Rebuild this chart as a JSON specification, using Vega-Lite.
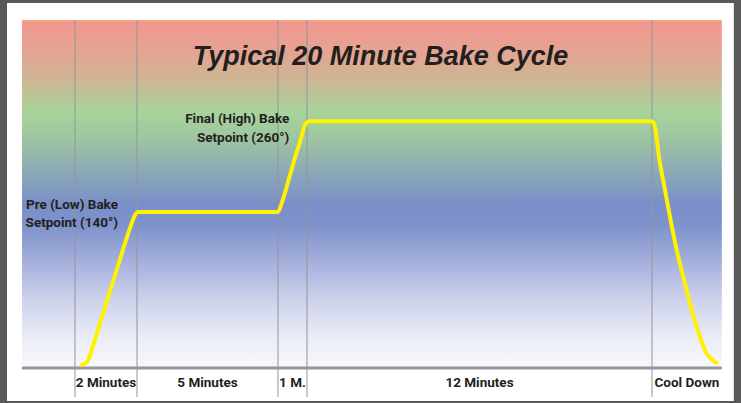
{
  "$schema": "https://vega.github.io/schema/vega-lite/v6.json",
  "width": 741,
  "height": 403,
  "padding": 0,
  "autosize": {"type": "none"},
  "background": "#58595b",
  "config": {"view": {"stroke": null}},
  "datasets": {
    "page": [{"t0": -2.357, "t1": 22.85, "d0": -109.4, "d1": 416}],
    "zone": [{"t0": -1.837, "t1": 22.433, "d0": -65.8, "d1": 393.6}],
    "dividers": [
      {"t": 0, "d0": -104, "d1": 393.6},
      {"t": 2, "d0": -104, "d1": 393.6},
      {"t": 7, "d0": -104, "d1": 393.6},
      {"t": 8, "d0": -104, "d1": 393.6},
      {"t": 20, "d0": -104, "d1": 393.6}
    ],
    "baseline": [{"t0": -1.837, "t1": 22.433, "d": -65.8}],
    "curve": [
      {"t": 0.216, "temp": -61.8},
      {"t": 0.397, "temp": -57.5},
      {"t": 0.539, "temp": -42.0},
      {"t": 0.806, "temp": -6.8},
      {"t": 1.074, "temp": 28.3},
      {"t": 1.345, "temp": 63.6},
      {"t": 1.613, "temp": 98.8},
      {"t": 1.829, "temp": 125.2},
      {"t": 1.935, "temp": 136.2},
      {"t": 2.046, "temp": 140},
      {"t": 4.5, "temp": 140},
      {"t": 6.99, "temp": 140},
      {"t": 7.128, "temp": 151.6},
      {"t": 7.3, "temp": 173.5},
      {"t": 7.528, "temp": 204.4},
      {"t": 7.759, "temp": 232.9},
      {"t": 7.931, "temp": 255.0},
      {"t": 8.08, "temp": 260},
      {"t": 14, "temp": 260},
      {"t": 20.0, "temp": 260},
      {"t": 20.104, "temp": 252.7},
      {"t": 20.243, "temp": 213.1},
      {"t": 20.452, "temp": 169.2},
      {"t": 20.626, "temp": 133.9},
      {"t": 20.859, "temp": 90.0},
      {"t": 21.088, "temp": 54.7},
      {"t": 21.321, "temp": 19.6},
      {"t": 21.554, "temp": -11.3},
      {"t": 21.728, "temp": -31.1},
      {"t": 21.901, "temp": -46.4},
      {"t": 22.075, "temp": -54.3},
      {"t": 22.249, "temp": -58.8}
    ],
    "phases": [
      {"label": "2 Minutes", "t": 1.0, "d": -90.5},
      {"label": "5 Minutes", "t": 4.5, "d": -90.5},
      {"label": "1 M.", "t": 7.5, "d": -90.5},
      {"label": "12 Minutes", "t": 14, "d": -90.5},
      {"label": "Cool Down", "t": 21.217, "d": -90.5}
    ],
    "notes": [
      {"label": "Pre (Low) Bake", "t": 1.387, "d": 143.7},
      {"label": "Setpoint (140°)", "t": 1.387, "d": 119.7},
      {"label": "Final (High) Bake", "t": 7.39, "d": 257.2},
      {"label": "Setpoint (260°)", "t": 7.39, "d": 232.9}
    ],
    "heading": [{"label": "Typical 20 Minute Bake Cycle", "t": 10.557, "d": 334.2}]
  },
  "layer": [
    {
      "data": {"name": "page"},
      "mark": {"type": "rect", "fill": "#ffffff"},
      "encoding": {
        "x": {"field": "t0", "type": "quantitative", "axis": null, "scale": {"domain": [-2.6, 0, 2, 7, 8, 20, 23.1], "range": [0, 75, 137, 278, 307, 652, 741], "nice": false, "zero": false}},
        "x2": {"field": "t1"},
        "y": {"field": "d0", "type": "quantitative", "axis": null, "scale": {"domain": [-112, 420], "nice": false, "zero": false}},
        "y2": {"field": "d1"}
      }
    },
    {
      "data": {"name": "zone"},
      "mark": {
        "type": "rect",
        "fill": {
          "gradient": "linear", "x1": 0, "y1": 0, "x2": 0, "y2": 1,
          "stops": [
            {"offset": 0, "color": "#f7ae7e"},
            {"offset": 0.007, "color": "#f19790"},
            {"offset": 0.086, "color": "#e6a392"},
            {"offset": 0.158, "color": "#d2b293"},
            {"offset": 0.23, "color": "#b5c897"},
            {"offset": 0.264, "color": "#a8d49a"},
            {"offset": 0.345, "color": "#9dc4a2"},
            {"offset": 0.445, "color": "#8aa6b9"},
            {"offset": 0.53, "color": "#7a8fc9"},
            {"offset": 0.589, "color": "#7e92cb"},
            {"offset": 0.69, "color": "#a3aedb"},
            {"offset": 0.805, "color": "#cdd2eb"},
            {"offset": 0.92, "color": "#eceef7"},
            {"offset": 1, "color": "#f8f8fb"}
          ]
        }
      },
      "encoding": {
        "x": {"field": "t0", "type": "quantitative", "axis": null, "scale": {"domain": [-2.6, 0, 2, 7, 8, 20, 23.1], "range": [0, 75, 137, 278, 307, 652, 741], "nice": false, "zero": false}},
        "x2": {"field": "t1"},
        "y": {"field": "d0", "type": "quantitative", "axis": null, "scale": {"domain": [-112, 420], "nice": false, "zero": false}},
        "y2": {"field": "d1"}
      }
    },
    {
      "data": {"name": "dividers"},
      "mark": {"type": "rule", "color": "#939598", "strokeWidth": 1},
      "encoding": {
        "x": {"field": "t", "type": "quantitative", "axis": null, "scale": {"domain": [-2.6, 0, 2, 7, 8, 20, 23.1], "range": [0, 75, 137, 278, 307, 652, 741], "nice": false, "zero": false}},
        "y": {"field": "d0", "type": "quantitative", "axis": null, "scale": {"domain": [-112, 420], "nice": false, "zero": false}},
        "y2": {"field": "d1"}
      }
    },
    {
      "data": {"name": "baseline"},
      "mark": {"type": "rule", "color": "#939598", "strokeWidth": 3},
      "encoding": {
        "x": {"field": "t0", "type": "quantitative", "axis": null, "scale": {"domain": [-2.6, 0, 2, 7, 8, 20, 23.1], "range": [0, 75, 137, 278, 307, 652, 741], "nice": false, "zero": false}},
        "x2": {"field": "t1"},
        "y": {"field": "d", "type": "quantitative", "axis": null, "scale": {"domain": [-112, 420], "nice": false, "zero": false}}
      }
    },
    {
      "data": {"name": "curve"},
      "mark": {"type": "line", "color": "#fff200", "strokeWidth": 4, "interpolate": "monotone", "strokeCap": "round"},
      "encoding": {
        "x": {"field": "t", "type": "quantitative", "axis": null, "scale": {"domain": [-2.6, 0, 2, 7, 8, 20, 23.1], "range": [0, 75, 137, 278, 307, 652, 741], "nice": false, "zero": false}},
        "y": {"field": "temp", "type": "quantitative", "axis": null, "scale": {"domain": [-112, 420], "nice": false, "zero": false}}
      }
    },
    {
      "data": {"name": "phases"},
      "mark": {"type": "text", "font": "Roboto", "fontWeight": "bold", "fontSize": 13.5, "color": "#231f20", "align": "center", "baseline": "alphabetic"},
      "encoding": {
        "x": {"field": "t", "type": "quantitative", "axis": null, "scale": {"domain": [-2.6, 0, 2, 7, 8, 20, 23.1], "range": [0, 75, 137, 278, 307, 652, 741], "nice": false, "zero": false}},
        "y": {"field": "d", "type": "quantitative", "axis": null, "scale": {"domain": [-112, 420], "nice": false, "zero": false}},
        "text": {"field": "label"}
      }
    },
    {
      "data": {"name": "notes"},
      "mark": {"type": "text", "font": "Roboto", "fontWeight": "bold", "fontSize": 13.5, "color": "#231f20", "align": "right", "baseline": "alphabetic"},
      "encoding": {
        "x": {"field": "t", "type": "quantitative", "axis": null, "scale": {"domain": [-2.6, 0, 2, 7, 8, 20, 23.1], "range": [0, 75, 137, 278, 307, 652, 741], "nice": false, "zero": false}},
        "y": {"field": "d", "type": "quantitative", "axis": null, "scale": {"domain": [-112, 420], "nice": false, "zero": false}},
        "text": {"field": "label"}
      }
    },
    {
      "data": {"name": "heading"},
      "mark": {"type": "text", "font": "Liberation Sans", "fontWeight": "bold", "fontStyle": "italic", "fontSize": 27, "color": "#231f20", "align": "center", "baseline": "alphabetic"},
      "encoding": {
        "x": {"field": "t", "type": "quantitative", "axis": null, "scale": {"domain": [-2.6, 0, 2, 7, 8, 20, 23.1], "range": [0, 75, 137, 278, 307, 652, 741], "nice": false, "zero": false}},
        "y": {"field": "d", "type": "quantitative", "axis": null, "scale": {"domain": [-112, 420], "nice": false, "zero": false}},
        "text": {"field": "label"}
      }
    }
  ]
}
